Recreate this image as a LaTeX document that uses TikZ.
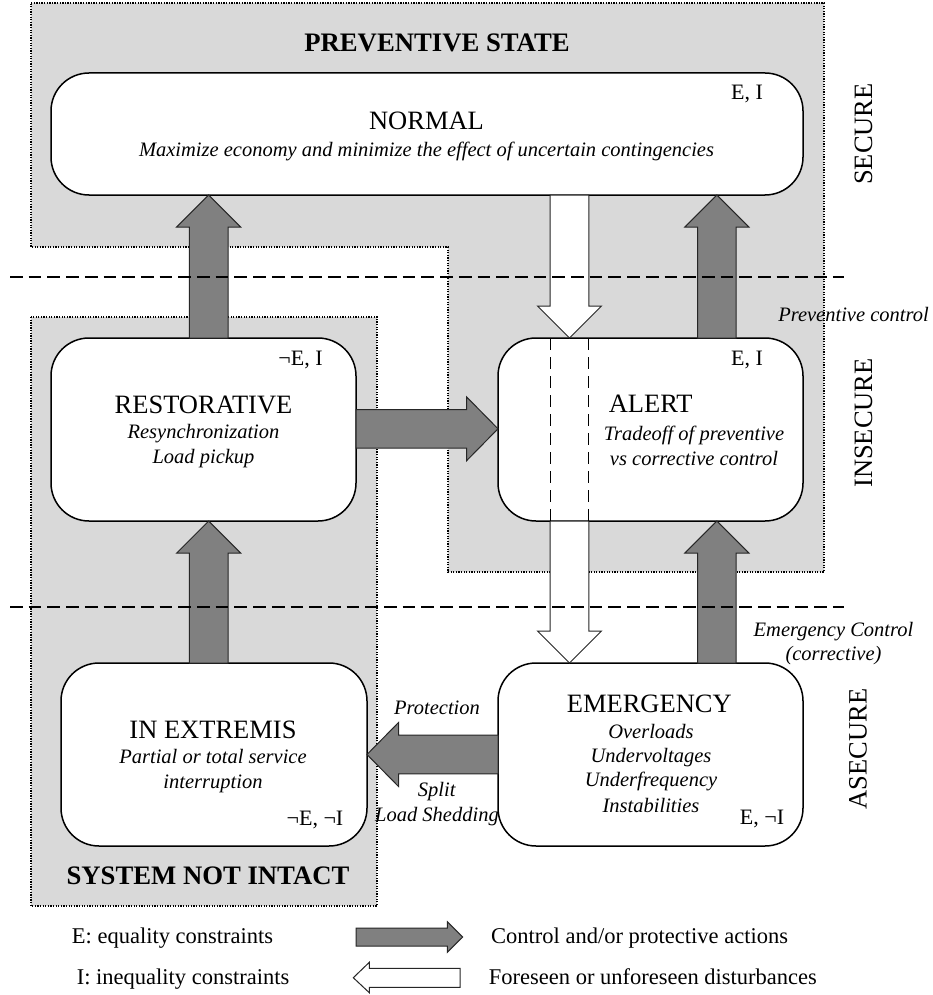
\documentclass[tikz,border=0pt]{standalone}
\usepackage{fontspec}
\setmainfont{Liberation Serif}
\usetikzlibrary{calc}
\definecolor{regfill}{HTML}{D9D9D9}
\definecolor{arrgray}{HTML}{808080}
\definecolor{arrline}{HTML}{262626}
\tikzset{
  region/.style={fill=regfill, draw=black, line width=1.3pt, dash pattern=on 1.3pt off 1.3pt},
  statebox/.style={draw=black, fill=white, line width=1.5pt, rounded corners=38pt, outer sep=0pt, inner sep=0pt},
  garrow/.style={fill=arrgray, draw=arrline, line width=1pt, line join=miter},
  warrow/.style={fill=white, draw=arrline, line width=1pt, line join=miter},
  hdash/.style={draw=black, line width=1.3pt, dash pattern=on 12.7pt off 6pt},
  adash/.style={draw=black, line width=1.3pt, dash pattern=on 12pt off 7pt},
  ttl/.style={font=\fontsize{26.5}{30}\selectfont, inner sep=0pt, anchor=base},
  bttl/.style={font=\fontsize{26.7}{30}\selectfont\bfseries, inner sep=0pt, anchor=base},
  sub/.style={font=\fontsize{20.5}{24}\selectfont\itshape, inner sep=0pt, anchor=base},
  cons/.style={font=\fontsize{22}{26}\selectfont, inner sep=0pt, anchor=base},
  side/.style={font=\fontsize{26.5}{30}\selectfont, inner sep=0pt, rotate=90, anchor=center},
  lgd/.style={font=\fontsize{22.5}{26}\selectfont, inner sep=0pt, anchor=base},
}
% vertical block arrow: style, x (px), start anchor, tip anchor
\newcommand{\vblk}[4]{%
  \draw[#1] let \p1=(#3), \p2=(#4), \n1={sign(\y2-\y1)} in
    ({#2pt-19.3pt},\y1) -- ({#2pt-19.3pt},{\y2-\n1*32pt}) -- ({#2pt-32pt},{\y2-\n1*32pt})
    -- (#2pt,\y2) -- ({#2pt+32pt},{\y2-\n1*32pt}) -- ({#2pt+19.3pt},{\y2-\n1*32pt})
    -- ({#2pt+19.3pt},\y1) -- cycle;}
% horizontal block arrow: style, y (px, downward), start anchor, tip anchor
\newcommand{\hblk}[4]{%
  \draw[#1] let \p1=(#3), \p2=(#4), \n1={sign(\x2-\x1)} in
    (\x1,{-#2pt-19.3pt}) -- ({\x2-\n1*31.5pt},{-#2pt-19.3pt}) -- ({\x2-\n1*31.5pt},{-#2pt-32pt})
    -- (\x2,{-#2pt}) -- ({\x2-\n1*31.5pt},{-#2pt+32pt}) -- ({\x2-\n1*31.5pt},{-#2pt+19.3pt})
    -- (\x1,{-#2pt+19.3pt}) -- cycle;}
\begin{document}
\begin{tikzpicture}[x=1pt,y=-1pt]
\useasboundingbox (0,0) rectangle (932,995);
% regions
\draw[region] (31,3) -- (824,3) -- (824,572) -- (448,572) -- (448,247) -- (31,247) -- cycle;
\draw[region] (31,317) rectangle (377,906);
% state boxes
\node[statebox, minimum width=752pt, minimum height=122pt] (normal) at (427,134) {};
\node[statebox, minimum width=305pt, minimum height=183pt] (restorative) at (203.5,429.5) {};
\node[statebox, minimum width=305pt, minimum height=183pt] (alert) at (650.5,429.5) {};
\node[statebox, minimum width=306pt, minimum height=183pt] (extremis) at (214,754.5) {};
\node[statebox, minimum width=305pt, minimum height=183pt] (emergency) at (650.5,754.5) {};
% block arrows
\vblk{garrow}{208.7}{restorative.north}{normal.south}
\vblk{garrow}{208.7}{extremis.north}{restorative.south}
\vblk{garrow}{716.8}{alert.north}{normal.south}
\vblk{garrow}{716.8}{emergency.north}{alert.south}
\vblk{warrow}{569.5}{normal.south}{alert.north}
\vblk{warrow}{569.5}{alert.south}{emergency.north}
\hblk{garrow}{428.8}{restorative.east}{alert.west}
\hblk{garrow}{754.5}{emergency.west}{extremis.east}
% dashed continuation through ALERT
\draw[adash] (550.2,0 |- alert.north) -- (550.2,0 |- alert.south);
\draw[adash] (588.8,0 |- alert.north) -- (588.8,0 |- alert.south);
% horizontal dashed separators
\draw[hdash] (10,277) -- (844,277);
\draw[hdash] (10,607) -- (844,607);
% texts
\node[bttl] (tprev) at (437,51.7) {PREVENTIVE STATE};
\node[ttl] (tnormal) at (426.5,130) {NORMAL};
\node[sub] (snormal) at (426.5,156.5) {Maximize economy and minimize the effect of uncertain contingencies};
\node[cons] (cnormal) at (747,100) {E, I};
\node[side] (lsecure) at (863.5,134) {SECURE};
\node[sub] (lprevctl) at (853.5,321.5) {Preventive control};
\node[side] (linsecure) at (863.5,423) {INSECURE};
\node[sub] (lemctl1) at (833.5,636) {Emergency Control};
\node[sub] (lemctl2) at (833.5,660.5) {(corrective)};
\node[side] (lasecure) at (858,749) {ASECURE};
\node[ttl] (trest) at (203.5,413.3) {RESTORATIVE};
\node[sub] (srest1) at (203.5,438.3) {Resynchronization};
\node[sub] (srest2) at (203.5,463.3) {Load pickup};
\node[cons] (crest) at (300.5,365) {¬E, I};
\node[ttl] (talert) at (650.7,412.3) {ALERT};
\node[sub] (salert1) at (694,440) {Tradeoff of preventive};
\node[sub] (salert2) at (694,465) {vs corrective control};
\node[cons] (calert) at (747,365) {E, I};
\node[ttl] (textr) at (213,738.3) {IN EXTREMIS};
\node[sub] (sextr1) at (213,763.3) {Partial or total service};
\node[sub] (sextr2) at (213,788.3) {interruption};
\node[cons] (cextr) at (315,825) {¬E, ¬I};
\node[bttl] (tsni) at (208,884) {SYSTEM NOT INTACT};
\node[sub] (lprot) at (437,714) {Protection};
\node[sub] (lsplit) at (436.7,796.7) {Split};
\node[sub] (lshed) at (437,821) {Load Shedding};
\node[ttl] (temer) at (649.3,712.7) {EMERGENCY};
\node[sub] (semer1) at (651,738.3) {Overloads};
\node[sub] (semer2) at (651,762.7) {Undervoltages};
\node[sub] (semer3) at (651,786.7) {Underfrequency};
\node[sub] (semer4) at (651,812.7) {Instabilities};
\node[cons] (cemer) at (762,824.3) {E, ¬I};
% legend
\draw[garrow] (356,928) -- (447.3,928) -- (447.3,921.7) -- (462.7,937) -- (447.3,952.3) -- (447.3,946) -- (356,946) -- cycle;
\draw[warrow] (460,968.3) -- (369.3,968.3) -- (369.3,962.3) -- (353.3,977.7) -- (369.3,992.7) -- (369.3,987.3) -- (460,987.3) -- cycle;
\node[lgd] (leq) at (172.5,943.3) {E: equality constraints};
\node[lgd] (lineq) at (183,984.3) {I: inequality constraints};
\node[lgd, anchor=base west] (lctl) at (491,943.3) {Control and/or protective actions};
\node[lgd, anchor=base west] (ldist) at (488.7,984.3) {Foreseen or unforeseen disturbances};
\end{tikzpicture}
\end{document}
